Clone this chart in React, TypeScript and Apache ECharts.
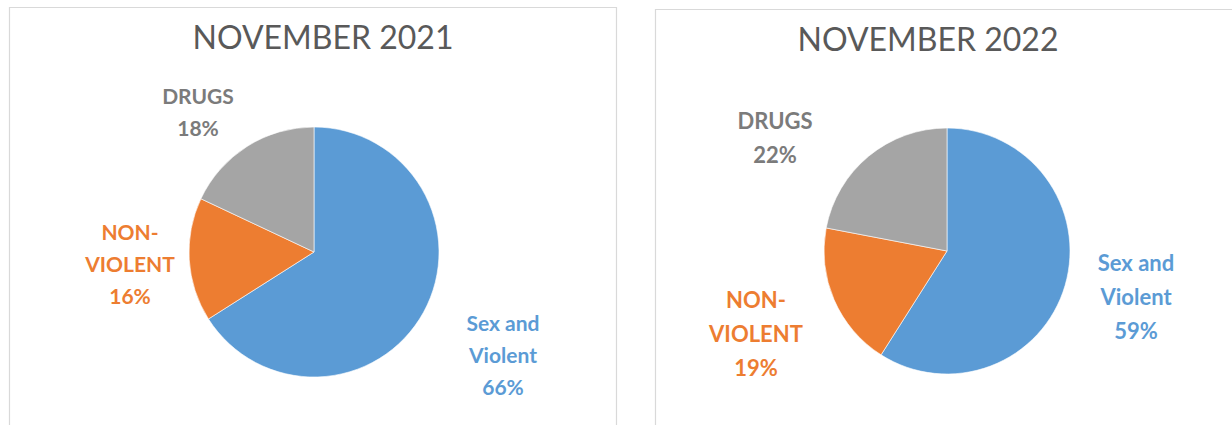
import React, { useEffect, useRef } from "react";
import * as echarts from "echarts";

const categories = ["Sex and\nViolent", "NON-\nVIOLENT", "DRUGS"];
const values2021 = [66, 16, 18];
const values2022 = [59, 19, 22];
const titles = ["NOVEMBER 2021", "NOVEMBER 2022"];

const sliceColors = ["#5B9BD5", "#ED7D31", "#A5A5A5"];
const labelColors = ["#5B9BD5", "#ED7D31", "#7B7B7B"];

// label anchor positions (px) per chart, per category
const labelPos = [
  [
    [503, 354],
    [130, 263],
    [198, 111],
  ],
  [
    [1136, 296],
    [756, 333],
    [775, 137],
  ],
];
const labelFont = [
  [21, 32],
  [22, 34],
];

const FONT = "Lato, 'Open Sans', 'DejaVu Sans', sans-serif";

export default function App() {
  const ref = useRef<HTMLDivElement>(null);
  useEffect(() => {
    const chart = echarts.init(ref.current!, null, { renderer: "svg" });
    const makeSeries = (vals: number[], idx: number, center: string[], r: number) => ({
      type: "pie",
      radius: r,
      center,
      startAngle: 90,
      clockwise: true,
      silent: true,
      data: vals.map((v, i) => ({
        name: categories[i],
        value: v,
        itemStyle: { color: sliceColors[i] },
        label: { color: labelColors[i] },
      })),
      itemStyle: { borderColor: "#ffffff", borderWidth: 0.6 },
      label: {
        show: true,
        position: "outside",
        formatter: (p: any) => `${p.name}\n${p.value}%`,
        fontFamily: FONT,
        fontWeight: "bold",
        fontSize: labelFont[idx][0],
        lineHeight: labelFont[idx][1],
        align: "center",
        overflow: "none",
        width: 200,
      },
      labelLine: { show: false },
      labelLayout: (p: any) => ({
        x: labelPos[idx][p.dataIndex][0],
        y: labelPos[idx][p.dataIndex][1],
        align: "center",
        verticalAlign: "middle",
      }),
    });
    chart.setOption({
      animation: false,
      backgroundColor: "#ffffff",
      title: [
        {
          text: titles[0],
          left: 318,
          top: 15,
          textAlign: "center",
          textStyle: { fontFamily: FONT, fontWeight: "normal", fontSize: 32, color: "#595959" },
        },
        {
          text: titles[1],
          left: 923,
          top: 17,
          textAlign: "center",
          textStyle: { fontFamily: FONT, fontWeight: "normal", fontSize: 32, color: "#595959" },
        },
      ],
      graphic: [
        {
          type: "rect",
          shape: { x: 9.5, y: 7.5, width: 607, height: 430 },
          style: { fill: "none", stroke: "#D9D9D9", lineWidth: 1.2 },
          silent: true,
        },
        {
          type: "rect",
          shape: { x: 655.5, y: 9.5, width: 590, height: 430 },
          style: { fill: "none", stroke: "#D9D9D9", lineWidth: 1.2 },
          silent: true,
        },
      ],
      series: [
        makeSeries(values2021, 0, ["314", "252"], 125),
        makeSeries(values2022, 1, ["947", "251"], 123),
      ],
    });
    return () => chart.dispose();
  }, []);
  return (
    <div
      ref={ref}
      style={{ position: "absolute", left: 0, top: 0, width: 1232, height: 425 }}
    />
  );
}
